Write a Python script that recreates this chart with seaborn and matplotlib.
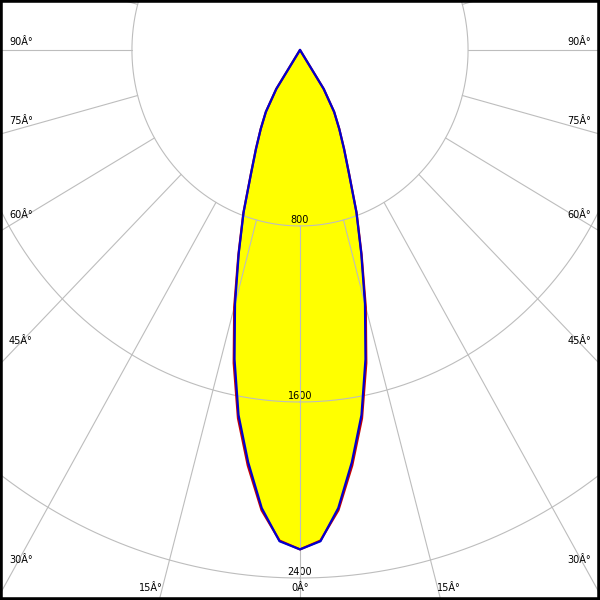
import numpy as np
import pandas as pd
import seaborn as sns
import matplotlib
matplotlib.use('Agg')
import matplotlib.pyplot as plt


# luminous intensity (cd) by angle from nadir, one half of each plane
ANGLES = [0, 2.5, 5, 7.5, 10, 12.5, 15, 17.5, 20, 22.5, 25, 27.5, 30, 32.5, 35]
C0_C180 = [2270, 2232, 2100, 1905, 1700, 1458, 1210, 975, 788, 612, 497, 405, 325, 210, 0]
C90_C270 = [2270, 2235, 2090, 1890, 1685, 1440, 1195, 970, 785, 610, 495, 405, 325, 210, 0]

RINGS = [800, 1600, 2400]
SPOKE_STEP = 15

# angle tick labels: (text, px x, px y, ha)
ANGLE_LABELS = [
    ('90Â°', 9, 42, 'left'), ('75Â°', 9, 121, 'left'), ('60Â°', 9, 215, 'left'),
    ('45Â°', 9, 341, 'left'), ('30Â°', 9, 560, 'left'),
    ('90Â°', 591, 42, 'right'), ('75Â°', 591, 121, 'right'), ('60Â°', 591, 215, 'right'),
    ('45Â°', 591, 341, 'right'), ('30Â°', 591, 560, 'right'),
    ('15Â°', 151, 588, 'center'), ('0Â°', 300, 588, 'center'), ('15Â°', 449, 588, 'center'),
]

GRID = dict(color='#bdbdbd', lw=0.8, zorder=1.5)
FONT = dict(fontsize=7, color='black', family='DejaVu Sans')


def plane_frame(name, values):
    # full curve: left half mirrored, then right half
    ang = [-a for a in ANGLES[::-1]] + ANGLES[1:]
    cd = values[::-1] + values[1:]
    df = pd.DataFrame({'angle': ang, 'cd': cd, 'plane': name})
    rad = np.radians(df['angle'])
    df['x'] = df['cd'] * np.sin(rad)
    df['y'] = -df['cd'] * np.cos(rad)
    return df


def main():
    sns.set_style('white')
    df = pd.concat([
        plane_frame('C0-C180', C0_C180),
        plane_frame('C90-C270', C90_C270),
    ], ignore_index=True)

    fig = plt.figure(figsize=(6, 6), dpi=100)
    ax = fig.add_axes([0, 0, 1, 1])
    ax.set_xlim(-1428, 1428)
    ax.set_ylim(-2500, 227)

    blue = df[df['plane'] == 'C90-C270']
    ax.fill(blue['x'], blue['y'], color='#ffff00', lw=0, zorder=1)

    # polar grid
    t = np.linspace(0, 2 * np.pi, 721)
    for r in RINGS:
        ax.plot(r * np.sin(t), -r * np.cos(t), **GRID)
    for a in range(0, 360, SPOKE_STEP):
        s, c = np.sin(np.radians(a)), np.cos(np.radians(a))
        ax.plot([RINGS[0] * s, 5000 * s], [-RINGS[0] * c, -5000 * c], **GRID)

    sns.lineplot(
        data=df, x='x', y='y', hue='plane', hue_order=['C0-C180', 'C90-C270'],
        palette={'C0-C180': '#c80000', 'C90-C270': '#0000d0'},
        sort=False, estimator=None, legend=False, lw=1.6, zorder=3, ax=ax
        )

    for r in RINGS:
        ax.annotate(
            str(r), (0, -r), xytext=(0, 4.5), textcoords='offset points',
            ha='center', va='center', zorder=1.2, **FONT
            )

    for txt, px, py, ha in ANGLE_LABELS:
        ax.text(px / 600, 1 - py / 600, txt, transform=ax.transAxes,
                ha=ha, va='center', **FONT)

    ax.set(xlabel='', ylabel='', xticks=[], yticks=[])
    for sp in ax.spines.values():
        sp.set_visible(True)
        sp.set_color('black')
        sp.set_linewidth(4)

    fig.savefig('out.png', dpi=100)


if __name__ == '__main__':
    main()
